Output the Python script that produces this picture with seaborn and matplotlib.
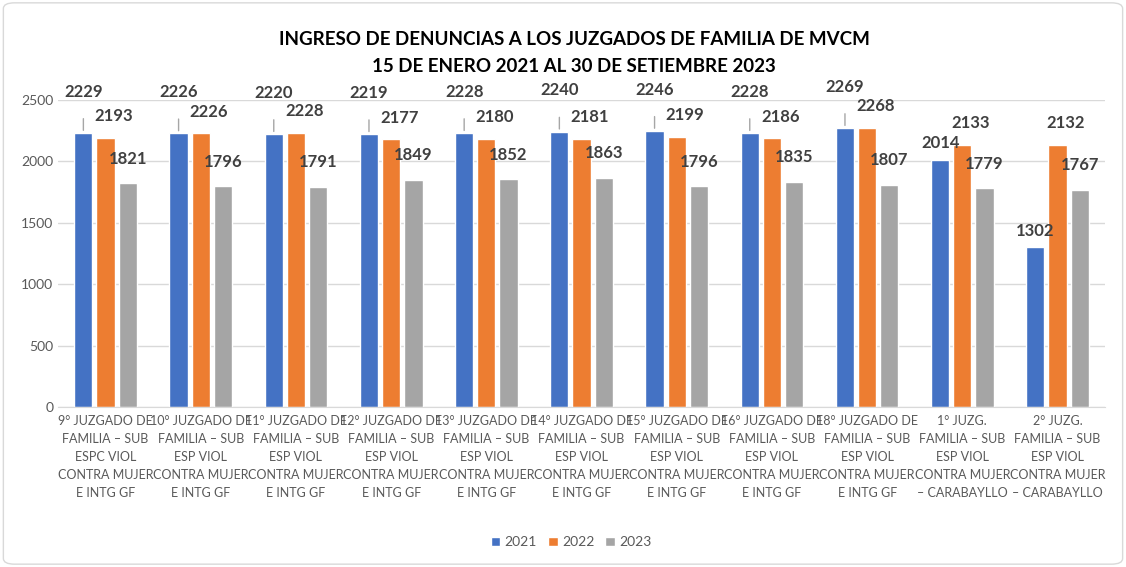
import numpy as np
import pandas as pd
import matplotlib.pyplot as plt
import seaborn as sns
from matplotlib.patches import FancyBboxPatch

juzgados = [
    "9° JUZGADO DE\nFAMILIA – SUB\nESPC VIOL\nCONTRA MUJER\nE INTG GF",
    "10° JUZGADO DE\nFAMILIA – SUB\nESP VIOL\nCONTRA MUJER\nE INTG GF",
    "11° JUZGADO DE\nFAMILIA – SUB\nESP VIOL\nCONTRA MUJER\nE INTG GF",
    "12° JUZGADO DE\nFAMILIA – SUB\nESP VIOL\nCONTRA MUJER\nE INTG GF",
    "13° JUZGADO DE\nFAMILIA – SUB\nESP VIOL\nCONTRA MUJER\nE INTG GF",
    "14° JUZGADO DE\nFAMILIA – SUB\nESP VIOL\nCONTRA MUJER\nE INTG GF",
    "15° JUZGADO DE\nFAMILIA – SUB\nESP VIOL\nCONTRA MUJER\nE INTG GF",
    "16° JUZGADO DE\nFAMILIA – SUB\nESP VIOL\nCONTRA MUJER\nE INTG GF",
    "18° JUZGADO DE\nFAMILIA – SUB\nESP VIOL\nCONTRA MUJER\nE INTG GF",
    "1° JUZG.\nFAMILIA – SUB\nESP VIOL\nCONTRA MUJER\n– CARABAYLLO",
    "2° JUZG.\nFAMILIA – SUB\nESP VIOL\nCONTRA MUJER\n– CARABAYLLO",
]
anios = ["2021", "2022", "2023"]
v2021 = [2229, 2226, 2220, 2219, 2228, 2240, 2246, 2228, 2269, 2014, 1302]
v2022 = [2193, 2226, 2228, 2177, 2180, 2181, 2199, 2186, 2268, 2133, 2132]
v2023 = [1821, 1796, 1791, 1849, 1852, 1863, 1796, 1835, 1807, 1779, 1767]
colores = ["#4472C4", "#ED7D31", "#A5A5A5"]

df = pd.DataFrame({
    "juzgado": juzgados * 3,
    "anio": [a for a in anios for _ in juzgados],
    "valor": v2021 + v2022 + v2023,
})

sns.set_style("white")
plt.rcParams["font.family"] = ["Lato", "DejaVu Sans"]

fig = plt.figure(figsize=(11.26, 5.67), dpi=100)
ax = fig.add_axes([0.0515, 0.282, 0.93, 0.542])

sns.barplot(data=df, x="juzgado", y="valor", hue="anio", palette=colores,
            width=0.7, gap=0.18, saturation=1, ax=ax, legend=True)

ax.set_ylim(0, 2500)
ax.set_yticks(range(0, 2501, 500))
ax.yaxis.grid(True, color="#D9D9D9", linewidth=1)
ax.set_axisbelow(True)
for s in ax.spines.values():
    s.set_visible(False)
ax.spines["bottom"].set_visible(True)
ax.spines["bottom"].set_color("#D9D9D9")
ax.set_xlabel("")
ax.set_ylabel("")
ax.tick_params(axis="both", length=0, colors="#595959")
ax.tick_params(axis="y", labelsize=10)
ax.tick_params(axis="x", labelsize=9, pad=6)
for t in ax.get_xticklabels():
    t.set_linespacing(1.6)

# etiquetas de datos (las de 2021 altas llevan línea guía, como en Excel)
offsets = {0: (0, 24), 1: (6, 10), 2: (0, 12)}
for i, cont in enumerate(ax.containers):
    for bar in cont:
        h = bar.get_height()
        xc = bar.get_x() + bar.get_width() / 2
        dx, dy = offsets[i]
        guia = i == 0 and h > 2100
        if i == 0 and not guia:
            dy = 6
        ax.annotate(f"{int(h)}", xy=(xc, h), xytext=(dx, dy),
                    textcoords="offset points", ha="center", va="bottom",
                    fontsize=12, fontweight="bold", color="#404040",
                    annotation_clip=False)
        if guia:
            ax.annotate("", xy=(xc, h), xytext=(xc, h + 140),
                        arrowprops=dict(arrowstyle="-", color="#A6A6A6", lw=1),
                        annotation_clip=False)

leg = ax.legend(loc="center", bbox_to_anchor=(0.49, -0.44), ncol=3,
                frameon=False, fontsize=10, handlelength=0.7, handleheight=0.7,
                columnspacing=0.8, handletextpad=0.3)
for t in leg.get_texts():
    t.set_color("#595959")

fig.text(0.51, 0.93, "INGRESO DE DENUNCIAS A LOS JUZGADOS DE FAMILIA DE MVCM",
         ha="center", va="center", fontsize=13.5, fontweight="bold", color="black")
fig.text(0.51, 0.883, "15 DE ENERO 2021 AL 30 DE SETIEMBRE 2023",
         ha="center", va="center", fontsize=13.5, fontweight="bold", color="black")

fig.patches.append(FancyBboxPatch((0.003, 0.005), 0.994, 0.99,
                                  boxstyle="round,pad=0,rounding_size=0.01",
                                  transform=fig.transFigure, fill=False,
                                  edgecolor="#D9D9D9", linewidth=1))

plt.savefig("out.png", dpi=100)
plt.close()
